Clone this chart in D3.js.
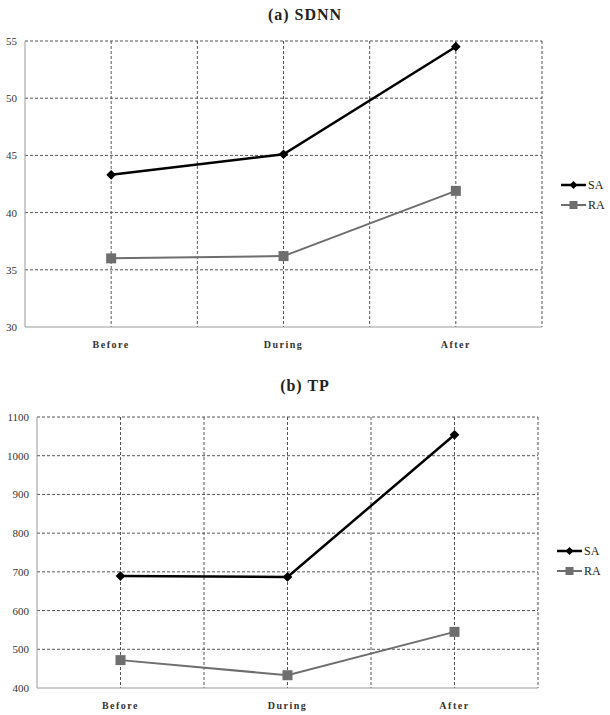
<!DOCTYPE html>
<html><head><meta charset="utf-8">
<script src="https://cdn.jsdelivr.net/npm/d3@7"></script>
<style>body{margin:0;background:#fff}svg{display:block}</style>
</head><body>
<svg id="c" width="610" height="715"></svg>
<script>
const categories = ["Before", "During", "After"];
const seriesNames = ["SA", "RA"];
const sdnnSA = [43.3, 45.1, 54.5];
const sdnnRA = [36.0, 36.2, 41.9];
const tpSA = [689, 687, 1054];
const tpRA = [472, 433, 545];
const sdnnTicks = [30, 35, 40, 45, 50, 55];
const tpTicks = [400, 500, 600, 700, 800, 900, 1000, 1100];

const svg = d3.select("#c");
const colors = {SA: "#000", RA: "#6e6e6e"};
const serif = "Liberation Serif, DejaVu Serif, Noto Serif, Times New Roman, serif";

function panel(cfg) {
  const g = svg.append("g");
  const x = d3.scaleBand().domain(categories).range([cfg.left, cfg.right]).padding(0);
  const y = d3.scaleLinear().domain(cfg.domain).range([cfg.bottom, cfg.top]);
  g.append("text").attr("x", 305).attr("y", cfg.titleY).attr("text-anchor", "middle")
    .style("font-family", serif).attr("font-weight", "bold").attr("font-size", 16)
    .attr("letter-spacing", "1px").attr("fill", "#222").text(cfg.title);
  g.selectAll(".hg").data(cfg.ticks.slice(1)).join("line")
    .attr("x1", cfg.left).attr("x2", cfg.right)
    .attr("y1", d => y(d)).attr("y2", d => y(d))
    .attr("stroke", "#555").attr("stroke-width", 1).attr("stroke-dasharray", "3,2");
  const vx = [];
  categories.forEach(c => { vx.push(x(c)); vx.push(x(c) + x.bandwidth() / 2); });
  vx.push(cfg.right);
  g.selectAll(".vg").data(vx.slice(1)).join("line")
    .attr("x1", d => d).attr("x2", d => d)
    .attr("y1", cfg.top).attr("y2", cfg.bottom)
    .attr("stroke", "#555").attr("stroke-width", 1).attr("stroke-dasharray", "3,2");
  g.append("line").attr("x1", cfg.left).attr("x2", cfg.left).attr("y1", cfg.top).attr("y2", cfg.bottom)
    .attr("stroke", "#999").attr("stroke-width", 1);
  g.append("line").attr("x1", cfg.left).attr("x2", cfg.right).attr("y1", cfg.bottom).attr("y2", cfg.bottom)
    .attr("stroke", "#999").attr("stroke-width", 1);
  g.selectAll(".yt").data(cfg.ticks).join("text")
    .attr("x", cfg.left - 8).attr("y", d => y(d) + 4).attr("text-anchor", "end")
    .style("font-family", serif).attr("font-size", 11).attr("fill", "#333").text(d => d);
  g.selectAll(".xt").data(categories).join("text")
    .attr("x", d => x(d) + x.bandwidth() / 2).attr("y", cfg.bottom + 21).attr("text-anchor", "middle")
    .style("font-family", serif).attr("font-weight", "bold").attr("font-size", 10)
    .attr("letter-spacing", "1.5px").attr("fill", "#333").text(d => d);
  const line = d3.line().x((d, i) => x(categories[i]) + x.bandwidth() / 2).y(d => y(d));
  const data = [{name: "RA", vals: cfg.ra}, {name: "SA", vals: cfg.sa}];
  data.forEach(s => {
    g.append("path").attr("d", line(s.vals)).attr("fill", "none")
      .attr("stroke", colors[s.name]).attr("stroke-width", s.name === "SA" ? 2.5 : 2);
    s.vals.forEach((v, i) => {
      const cx = x(categories[i]) + x.bandwidth() / 2, cy = y(v);
      if (s.name === "SA") {
        g.append("path").attr("d", d3.symbol(d3.symbolDiamond2, 60)())
          .attr("transform", `translate(${cx},${cy})`).attr("fill", "#000");
      } else {
        g.append("rect").attr("x", cx - 5).attr("y", cy - 5).attr("width", 10).attr("height", 10)
          .attr("fill", colors.RA);
      }
    });
  });
  seriesNames.forEach((n, i) => {
    const ly = cfg.legendY + i * 20;
    g.append("line").attr("x1", cfg.legX).attr("x2", cfg.legX + 25).attr("y1", ly).attr("y2", ly)
      .attr("stroke", colors[n]).attr("stroke-width", n === "SA" ? 2.5 : 2);
    const mx = cfg.legX + 12.5;
    if (n === "SA") {
      g.append("path").attr("d", d3.symbol(d3.symbolDiamond2, 40)())
        .attr("transform", `translate(${mx},${ly})`).attr("fill", "#000");
    } else {
      g.append("rect").attr("x", mx - 4).attr("y", ly - 4).attr("width", 8).attr("height", 8).attr("fill", colors.RA);
    }
    g.append("text").attr("x", cfg.legX + 27).attr("y", ly + 4).style("font-family", serif)
      .attr("font-size", 12).attr("fill", "#222").text(n);
  });
}

panel({title: "(a) SDNN", titleY: 20, left: 25, right: 542, top: 41, bottom: 327,
  domain: [30, 55], ticks: sdnnTicks, sa: sdnnSA, ra: sdnnRA, legendY: 185, legX: 561});
panel({title: "(b) TP", titleY: 391, left: 37, right: 538, top: 417, bottom: 688,
  domain: [400, 1100], ticks: tpTicks, sa: tpSA, ra: tpRA, legendY: 551, legX: 557});
</script>
</body></html>
